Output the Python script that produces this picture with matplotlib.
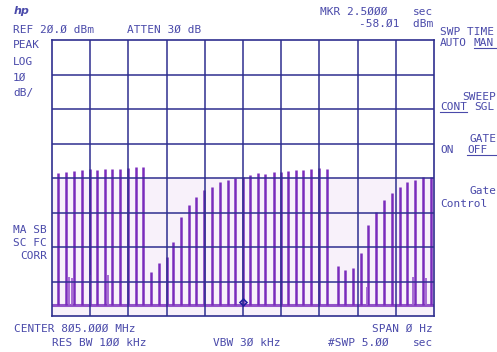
import matplotlib
matplotlib.use("Agg")
import matplotlib.pyplot as plt

# pulse burst times (sec) and peak levels (dBm)
pulse_t = [0.08, 0.18, 0.29, 0.39, 0.50, 0.59, 0.69, 0.79, 0.89, 1.00, 1.10, 1.19,
           1.30, 1.40, 1.50, 1.59, 1.69, 1.79, 1.89, 1.99, 2.10, 2.20, 2.30, 2.40,
           2.50, 2.59, 2.69, 2.79, 2.90, 3.00, 3.09, 3.19, 3.29, 3.39, 3.50, 3.60,
           3.74, 3.84, 3.94, 4.04, 4.14, 4.24, 4.35, 4.45, 4.55, 4.65, 4.75, 4.85, 4.96]
pulse_dbm = [-18.6, -18.2, -17.9, -17.7, -17.5, -17.7, -17.5, -17.4, -17.4, -17.0, -16.9, -16.9,
             -47.2, -44.7, -43.0, -38.5, -31.4, -27.8, -25.4, -23.5, -22.5, -21.2, -20.6, -20.1,
             -19.7, -19.1, -18.5, -18.8, -18.2, -18.2, -17.9, -17.7, -17.7, -17.4, -17.2, -17.5,
             -45.5, -46.7, -46.2, -41.8, -33.6, -29.8, -26.4, -24.3, -22.5, -21.2, -20.6, -19.8, -19.6]

# weaker echo pulses near the floor
echo_t = [0.22, 0.26, 0.50, 0.73, 4.12, 4.72, 4.90]
echo_dbm = [-48.6, -49.0, -48.1, -48.1, -51.5, -48.6, -49.0]

noise_floor = -56.8
mkr_t = 2.5
mkr_dbm = -56.0

ref_level = 20
db_per_div = 10

grid_col = "#2f2f8f"
trace_col = "#7a2cbc"
txt_col = "#4a4aaa"

fig = plt.figure(figsize=(4.97, 3.52), dpi=100)
ax = fig.add_axes([52 / 497, 1 - 316 / 352, 382 / 497, 276 / 352])
ax.set_xlim(0, 5)
ax.set_ylim(ref_level - 8 * db_per_div, ref_level)

for i in range(1, 10):
    ax.axvline(i * 0.5, color=grid_col, lw=1.1, zorder=3)
for j in range(1, 8):
    ax.axhline(ref_level - j * db_per_div, color=grid_col, lw=1.1, zorder=3)

ax.axhspan(-60, -20, color="#f8f1fa", zorder=0)
ax.axhline(noise_floor, color=trace_col, lw=2.2, alpha=0.8, zorder=2)
ax.vlines(pulse_t, noise_floor, pulse_dbm, color=trace_col, lw=1.8, zorder=2)
ax.vlines(echo_t, noise_floor, echo_dbm, color="#a060d0", lw=1.3, zorder=2)
ax.plot([mkr_t], [mkr_dbm], marker="D", ms=3.5, mfc="none", mec="#2020a0", mew=1.2, zorder=4)

ax.set_xticks([])
ax.set_yticks([])
for s in ax.spines.values():
    s.set_color(grid_col)
    s.set_linewidth(1.2)

mono = dict(family="DejaVu Sans Mono", fontsize=8, color=txt_col)

def put(x, y, s, **kw):
    fig.text(x / 497, 1 - y / 352, s, va="center", **mono, **kw)

fig.text(14 / 497, 1 - 11 / 352, "hp", va="center", fontsize=8, color=txt_col,
         fontstyle="italic", fontweight="bold")
put(13, 30, "REF 2Ø.Ø dBm")
put(127, 30, "ATTEN 3Ø dB")
put(13, 45, "PEAK")
put(13, 62, "LOG")
put(13, 78, "1Ø")
put(13, 93, "dB/")
put(13, 230, "MA SB")
put(13, 243, "SC FC")
put(20, 256, "CORR")

put(320, 12, "MKR 2.5ØØØ", ha="left")
put(433, 12, "sec", ha="right")
put(433, 24, "-58.Ø1  dBm", ha="right")

put(440, 32, "SWP TIME")
put(440, 43, "AUTO")
put(474, 43, "MAN")
put(462, 97, "SWEEP")
put(440, 107, "CONT")
put(474, 107, "SGL")
put(470, 139, "GATE")
put(440, 150, "ON")
put(467, 150, "OFF")
put(470, 191, "Gate")
put(440, 204, "Control")

# underlines for the selected softkey options
for x0, x1, y in [(474, 497, 48), (440, 467, 112), (467, 497, 155)]:
    fig.add_artist(plt.Line2D([x0 / 497, x1 / 497], [1 - y / 352, 1 - y / 352],
                              color=txt_col, lw=0.8))

put(14, 329, "CENTER 8Ø5.ØØØ MHz")
put(433, 329, "SPAN Ø Hz", ha="right")
put(52, 343, "RES BW 1ØØ kHz")
put(213, 343, "VBW 3Ø kHz")
put(328, 343, "#SWP 5.ØØ")
put(433, 343, "sec", ha="right")

fig.savefig("out.png", dpi=100)
